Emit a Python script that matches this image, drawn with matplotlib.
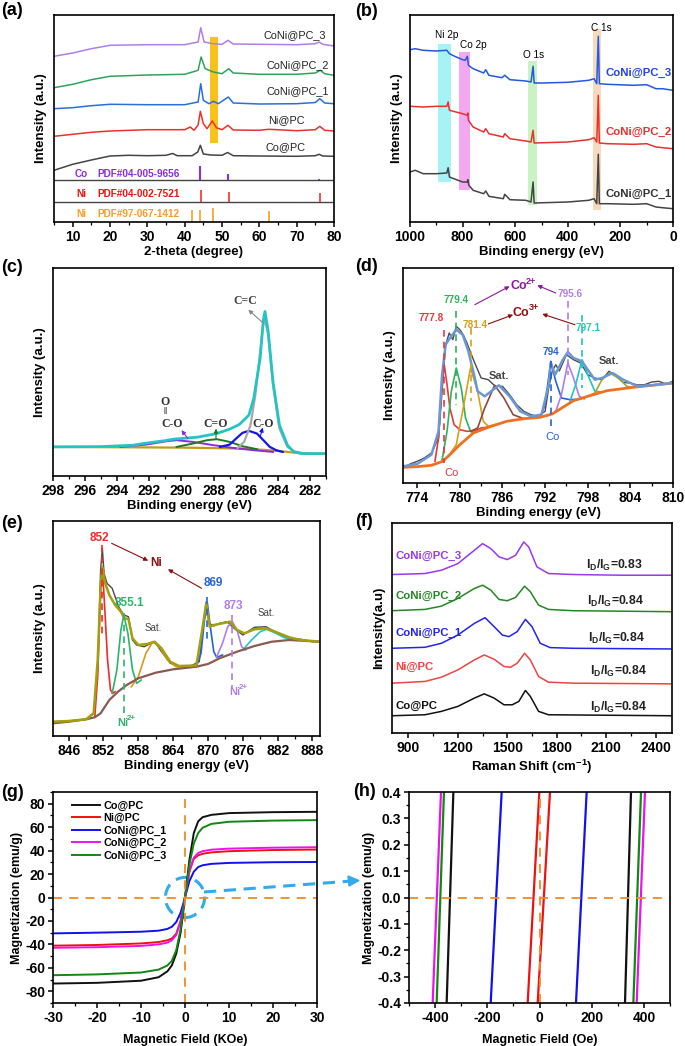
import numpy as np
import matplotlib.pyplot as plt
from matplotlib.patches import Ellipse
from matplotlib.lines import Line2D
from matplotlib.ticker import MultipleLocator

plt.rcParams['font.family'] = ['Liberation Sans', 'DejaVu Sans']
plt.rcParams['font.weight'] = 'bold'
plt.rcParams['axes.labelweight'] = 'bold'
plt.rcParams['mathtext.fontset'] = 'custom'
plt.rcParams['mathtext.rm'] = 'Liberation Sans:bold'
plt.rcParams['mathtext.bf'] = 'Liberation Sans:bold'
plt.rcParams['mathtext.default'] = 'bf'
plt.rcParams['axes.unicode_minus'] = False
plt.rcParams['axes.linewidth'] = 1.2

# ---------------- (a) XRD ----------------
xrd_co_x = [5, 10, 15, 20, 25, 30, 35, 36.8, 38, 42, 43.5, 44.2, 45, 47, 50, 51.5, 53, 60, 70, 75, 76, 77, 80]
xrd_co_y = [51.7, 57.7, 62, 66, 66.7, 66.3, 66.7, 68.5, 66.3, 66.3, 70, 76.7, 68, 67, 66.7, 69.5, 66.3, 66, 65.7, 66.3, 67.7, 66, 65.7]
xrd_ni_x = [5, 10, 15, 20, 30, 40, 41.5, 42.5, 43.6, 44.2, 45, 46, 47.4, 48.5, 50, 51.6, 53, 60, 62.5, 70, 75, 76.2, 77.5, 80]
xrd_ni_y = [85.7, 87.7, 89.7, 91, 92.3, 92.3, 95, 91.7, 97, 110.7, 98.3, 93.3, 101, 94.3, 92.3, 96.7, 92, 91.7, 92.7, 91.3, 92.3, 95.7, 91.7, 91]
xrd_c1_x = [5, 10, 15, 20, 30, 40, 43.6, 44.3, 45, 46.5, 47.7, 49, 51.7, 53, 60, 70, 75, 76.2, 77.5, 80]
xrd_c1_y = [113.3, 114.3, 116.3, 117.7, 117.3, 117.3, 120, 138.3, 121.7, 118.3, 120.7, 118.3, 125, 119, 118, 118.3, 119.5, 123.3, 119, 118.3]
xrd_c2_x = [5, 10, 15, 20, 30, 40, 43.6, 44.4, 45.5, 47.7, 50, 51.8, 53, 60, 70, 75, 76.3, 77.5, 80]
xrd_c2_y = [134.3, 137.7, 142.3, 145.7, 147, 147.7, 151.7, 165, 153.3, 150, 148.3, 153.3, 149, 147.7, 147.7, 149, 151.7, 148.3, 146.7]
xrd_c3_x = [5, 10, 15, 20, 30, 40, 43.6, 44.3, 45.2, 47.6, 50, 51.6, 53, 60, 70, 75, 76, 77, 80]
xrd_c3_y = [165.7, 169, 173.3, 176.7, 177.3, 177.3, 180, 194.3, 180, 178.3, 177.7, 181.7, 178, 177.7, 177.3, 178.3, 180, 177.7, 176]
xrd_names = ['Co@PC', 'Ni@PC', 'CoNi@PC_1', 'CoNi@PC_2', 'CoNi@PC_3']
xrd_label_pos = [(72.4, 75), (72.1, 101.7), (78.7, 131), (78.7, 156.7), (77.8, 186.7)]
pdf_co_x = [44.2, 51.6, 76.0]
pdf_co_top = [56, 47.7, 43.3]
pdf_ni1_x = [44.5, 51.8, 76.2]
pdf_ni1_top = [32.3, 30, 29]
pdf_ni2_x = [42.0, 44.0, 47.6, 62.6]
pdf_ni2_top = [11.7, 11.7, 14, 11]
pdf_names = [('Co', 'PDF#04-005-9656'), ('Ni', 'PDF#04-002-7521'), ('Ni', 'PDF#97-067-1412')]

# ---------------- (b) XPS survey ----------------
sv3_x = [1000, 980, 950, 900, 860, 850, 830, 800, 790, 782, 778, 760, 720, 712, 700, 650, 640, 620, 560, 540, 532, 528, 500, 400, 320, 300, 290, 284, 280, 250, 150, 100, 65, 40, 0]
sv3_y = [172.3, 173.3, 171.7, 171, 171.7, 168.3, 165.7, 162.3, 161.7, 165.7, 156.7, 153.3, 149, 152.3, 146.7, 144.3, 146.7, 142.3, 141, 140, 155.7, 139, 139, 139.7, 141.7, 143.3, 138.3, 185.7, 138.3, 137.7, 136.7, 137.3, 133.3, 133.3, 131.7]
sv2_x = [1000, 950, 900, 860, 855, 850, 800, 782, 780, 778, 760, 720, 712, 700, 645, 640, 620, 560, 540, 532, 528, 400, 320, 300, 290, 284, 280, 250, 150, 100, 65, 40, 0]
sv2_y = [115.7, 115, 115.7, 115.7, 120, 111.7, 108.3, 106.7, 109, 101.7, 95, 90, 93.3, 88.3, 85, 88.3, 83.3, 81, 80, 91.7, 79, 80, 82.3, 84.3, 80, 126.7, 79, 78.3, 77.7, 78.3, 75, 74.3, 73.3]
sv1_x = [1000, 980, 950, 900, 860, 855, 850, 800, 782, 780, 776, 760, 720, 712, 700, 645, 640, 620, 560, 540, 532, 528, 400, 320, 300, 290, 284, 280, 250, 150, 100, 65, 40, 0]
sv1_y = [50, 51.7, 48.3, 48.3, 49, 54.3, 45, 40, 40, 42.3, 36.7, 31.7, 28.3, 31, 25.7, 23.3, 27.7, 22.3, 21.7, 20, 40, 19, 20, 21.7, 23.3, 18.3, 67.7, 18.3, 18.3, 17.7, 18.3, 15, 14.3, 13.3]
band_x = [(895, 844), (813, 770), (551, 516), (306, 272)]
band_y = [(40, 178), (31.7, 170), (16.7, 160.7), (12.3, 193.3)]
band_col = ['#a5f3f5', '#f5a8f2', '#c9f3c2', '#f7d9bd']
band_txt = ['Ni 2p', 'Co 2p', 'O 1s', 'C 1s']
band_txt_pos = [(861, 186.7), (759, 176.7), (532, 167), (272, 194)]

# ---------------- (c) C 1s ----------------
c_env_x = [298, 295, 293, 292.4, 291, 290.5, 289, 287.8, 287, 286.4, 285.8, 285.5, 285.1, 284.9, 284.8, 284.6, 284.3, 283.9, 283.4, 283, 282.5, 281]
c_env_y = [29, 29.3, 30.7, 32.3, 35.3, 36.7, 38.7, 42.3, 46.7, 51.3, 60.7, 77.3, 117.3, 155.7, 164, 144, 94, 50.7, 30.7, 24, 22.3, 22.3]
c_bg_x = [298, 290, 286, 284, 283, 282, 281]
c_bg_y = [29, 28.3, 27.3, 25, 23.3, 22.3, 22.3]
c_cc_x = [286.5, 286.1, 285.7, 285.4, 285.1, 284.9, 284.8, 284.6, 284.3, 283.9, 283.4, 283, 282.5]
c_cc_y = [28, 34, 50.7, 80.7, 124, 152.3, 155.7, 140.7, 90.7, 47.3, 29, 24.7, 23]
c_co_x = [287.6, 287, 286.6, 286.2, 285.8, 285.3, 284.9, 284.5, 284.1, 283.7]
c_co_y = [29, 31.3, 37.3, 43, 45, 42.3, 35.7, 29, 25.7, 24]
c_ceo_x = [290.3, 289.3, 288.4, 287.8, 287, 286.2, 285.3]
c_ceo_y = [29, 32.3, 35.7, 36.7, 34, 29.7, 26.7]
c_oco_x = [293.8, 292.2, 290.9, 290.3, 289.3, 288, 286.8, 285.5, 284.3]
c_oco_y = [29, 31.3, 34.7, 35.7, 34, 30.7, 28, 25.7, 24]

# ---------------- (d) Co 2p ----------------
d_bg_x = [772, 774, 776, 777.6, 778.5, 780, 781.9, 784, 786.6, 789, 791.3, 793, 796, 798, 800.7, 804.4, 807, 810]
d_bg_y = [15.7, 16.3, 17.7, 21.7, 27.7, 38.3, 50, 55.7, 61.7, 64.3, 65.7, 69, 82.3, 86.7, 92.3, 95.7, 97.7, 100]
d_raw_x = [772, 773, 774, 775, 776, 777, 777.5, 778, 778.5, 779, 779.5, 780, 780.5, 781, 782, 783, 784, 785, 786, 787, 788, 789, 790, 791, 792, 792.5, 793, 793.5, 794, 795, 796, 797, 798, 799, 800, 801, 802, 803, 804, 805, 806, 807, 808, 809, 810]
d_raw_y = [15, 19, 21.7, 25, 30, 45, 91.7, 138.3, 150, 143.3, 156.7, 153.3, 148, 140, 121.7, 105, 103.3, 96.7, 96.7, 88.3, 78.3, 71.7, 68.3, 66.7, 71.7, 95, 111.7, 118.3, 112, 128.3, 123.3, 120, 108.3, 105, 103.3, 111.7, 106.7, 100.5, 100, 98, 98.3, 101, 101.7, 99, 101.7]
d_env_x = [772, 774, 776, 777, 777.5, 778, 778.6, 779.5, 780.4, 781.2, 782, 782.5, 783.5, 785.5, 787, 788.5, 790, 791.5, 792.5, 792.8, 793.4, 794.5, 795.2, 796, 797.2, 798, 799, 800, 801.5, 803, 805, 807, 810]
d_env_y = [16.7, 19, 28.3, 51.7, 108.3, 138.3, 145, 153.3, 148.3, 131.7, 108.3, 91.7, 86.7, 97.7, 86.7, 71.7, 66.7, 68.3, 98.3, 120, 108.3, 123.3, 131, 125, 121.7, 113.3, 103.3, 105, 110, 103.3, 96.7, 97.7, 100]
d_comp = {
    'red': ([776.5, 777, 777.4, 777.8, 778.2, 778.6, 779.2, 780, 781, 782, 783, 784], [21.7, 45, 91.7, 118.3, 98.3, 75, 58.3, 53.3, 51.7, 52, 55, 56]),
    'green': ([777.5, 778.2, 778.8, 779.5, 780.2, 780.8, 781.5, 782], [23.3, 51.7, 91.7, 115, 95, 65, 51.7, 50]),
    'gold': ([778.5, 779.5, 780.3, 781.5, 782.5, 783.3, 784, 785], [27.7, 38.3, 68.3, 115, 91.7, 61.7, 56.7, 58.5]),
    'brown': ([781.5, 782.5, 783.5, 784.9, 786.2, 787.5, 789], [51.7, 55, 75, 97.7, 85, 68.3, 64.3]),
    'blue': ([791.3, 792, 792.8, 793.5, 794.3, 795.5, 797], [65.7, 78.3, 121.7, 101.7, 85, 83.3, 84]),
    'lav': ([793.5, 794.3, 795.2, 796, 796.8, 797.5], [71.7, 88.3, 120, 105, 86.7, 84]),
    'cyan': ([795.5, 796.3, 797.2, 798, 799, 800], [81.7, 98.3, 123.3, 108.3, 91.7, 91]),
    'olive': ([797.5, 799, 800, 801.1, 802.3, 803.5, 804.5], [85, 90, 103.3, 110, 105, 96.7, 95.5]),
}
d_colors = {'red': '#e8383d', 'green': '#2fb35a', 'gold': '#d4a017', 'brown': '#8b4a3c',
            'blue': '#2563d6', 'lav': '#b07ee6', 'cyan': '#1fc6c6', 'olive': '#a3a81e'}
d_peaks = [('777.8', 777.8, 153.3, 20, 'red', 776.0, 165),
           ('779.4', 779.5, 171.7, 78.3, 'green', 779.5, 183.3),
           ('781.4', 781.5, 155, 81.7, 'gold', 782.1, 158.3),
           ('794', 792.8, 121.7, 55, 'blue', 792.8, 131),
           ('795.6', 795.2, 181.7, 108.3, 'lav', 795.5, 189),
           ('797.1', 797.2, 168.3, 95, 'cyan', 798.1, 155)]

# ---------------- (e) Ni 2p ----------------
e_bg_x = [843.3, 846, 849, 850.5, 851.5, 853, 854.5, 856, 858, 861, 864, 868, 870, 872, 875, 878, 881, 884, 889.3]
e_bg_y = [12.7, 14.3, 16.7, 18.7, 22.7, 36, 44.3, 51, 57.7, 63.3, 66.7, 69.3, 72, 77.7, 84.3, 90, 94.3, 96, 94.3]
e_raw_x = [843.3, 846, 849, 850.3, 851, 851.5, 851.8, 852.1, 852.6, 853.5, 854.6, 855.5, 856.3, 857, 857.7, 859, 860.8, 862, 863.5, 865, 867, 868.5, 869.3, 869.7, 870.2, 871, 872, 873.3, 874.5, 876, 878, 880, 882, 884, 886, 888, 889.3]
e_raw_y = [14.3, 15, 16.7, 22.7, 66, 166, 187.7, 162.7, 152.7, 147.7, 129.3, 121, 119.3, 96, 91, 89.3, 94.3, 84.3, 72.7, 70, 70, 74.3, 116, 134.3, 112.7, 110, 112.7, 114.3, 107.7, 101, 108.7, 109.3, 102.7, 97.7, 96.7, 94.3, 94.3]
e_env_x = [843.3, 846, 849, 850.3, 851, 851.5, 851.8, 852.2, 853, 854, 855, 855.6, 856.3, 857, 858, 859.5, 860.8, 862, 863.5, 865, 868, 869, 869.7, 870.3, 871, 872.5, 873.8, 875, 876.3, 878, 880, 882, 884, 886, 889.3]
e_env_y = [14.3, 15, 16.7, 22.7, 76, 149.3, 169.3, 154.3, 141, 131, 124.3, 117.7, 117, 97.7, 91, 92, 94.3, 87.7, 74.3, 70, 70.5, 106, 132.7, 109.3, 111, 112.7, 114.3, 106, 102.7, 106.7, 107.7, 103.3, 98.7, 96, 94.3]
e_comp = {
    'red': ([850.5, 851, 851.5, 851.8, 852.2, 852.7, 853.2, 853.6, 854], [19.3, 59.3, 146, 169.3, 129.3, 76, 46, 42.7, 44.3]),
    'green': ([853.5, 854.3, 855, 855.5, 856.2, 857, 857.7, 858.5], [42.7, 66, 106, 121, 102.7, 66, 52.7, 56]),
    'gold': ([856.8, 858, 859.3, 860.5, 861.8, 863, 864.5, 866], [49.3, 59.3, 82.7, 94.3, 87.7, 76, 69.3, 68.7]),
    'blue': ([868, 868.8, 869.4, 869.9, 870.4, 871, 871.5, 872.5], [69.3, 82.7, 116, 132.7, 109.3, 84.3, 78.7, 81]),
    'lav': ([871.5, 872.5, 873.4, 874.2, 875, 875.8, 876.5], [79.3, 92.7, 109.3, 114.3, 106, 89.3, 86]),
    'cyan': ([876, 877.5, 879, 880.1, 881.5, 883, 884.5], [86, 96, 104.3, 106.7, 103.3, 98.7, 96]),
}
e_colors = {'red': '#ee2b2b', 'green': '#2db36b', 'gold': '#d49a1c', 'blue': '#2563d6', 'lav': '#b07ee6', 'cyan': '#1fc6c6'}

# ---------------- (f) Raman ----------------
ram_names = ['Co@PC', 'Ni@PC', 'CoNi@PC_1', 'CoNi@PC_2', 'CoNi@PC_3']
ram_ratio = ['0.84', '0.84', '0.84', '0.84', '0.83']
ram_x = [
    [800, 1000, 1100, 1200, 1300, 1360, 1420, 1480, 1530, 1570, 1610, 1640, 1690, 1750, 2500],
    [800, 1000, 1100, 1200, 1300, 1360, 1420, 1480, 1520, 1560, 1605, 1640, 1690, 1750, 1900, 2500],
    [800, 1000, 1100, 1200, 1300, 1365, 1420, 1470, 1510, 1560, 1610, 1650, 1700, 1760, 1900, 2500],
    [800, 1000, 1100, 1200, 1300, 1350, 1400, 1450, 1500, 1550, 1605, 1640, 1690, 1750, 1900, 2500],
    [800, 1000, 1100, 1200, 1300, 1350, 1400, 1450, 1500, 1550, 1600, 1630, 1680, 1750, 1900, 2200, 2500],
]
ram_y = [
    [17.3, 18.3, 21.7, 26.7, 35, 39.3, 35, 28.3, 28.3, 31.7, 42.7, 36.7, 21.7, 18.3, 17.3],
    [50, 51.7, 56, 63.3, 73.3, 78.3, 74, 66.7, 66, 70, 80, 73.3, 56.7, 51, 50, 49.3],
    [85, 86, 90, 98.3, 110, 115.7, 106.7, 98.3, 96.7, 101.7, 114, 106.7, 90, 85.7, 85, 84.3],
    [122.7, 124, 127.3, 135, 145, 148.3, 143.3, 134, 132.7, 136, 147.3, 141.7, 128.3, 124, 122.7, 121.7],
    [159, 160, 163.3, 170, 183.3, 190, 185, 176.7, 174, 178.3, 191.7, 186.7, 166.7, 160, 159, 158.3, 158.3],
]
ram_colors = ['#111111', '#ee4444', '#2323ee', '#238823', '#9b37ee']
ram_label_y = [27.3, 66.7, 100.7, 137.3, 177.3]
ram_ratio_pos = [(2000, 26), (2000, 61.7), (1990, 95), (1985, 132.3), (1980, 168.3)]

# ---------------- (g) VSM ----------------
vsm_names = ['Co@PC', 'Ni@PC', 'CoNi@PC_1', 'CoNi@PC_2', 'CoNi@PC_3']
vsm_colors = ['#111111', '#ee1111', '#1111ee', '#ee11ee', '#118811']
vsm_h = [-30, -20, -10, -6, -4, -3, -2, -1, 0, 1, 2, 3, 4, 6, 10, 20, 30]
vsm_m = [
    [-73.4, -72.8, -71, -68, -63, -58, -48, -30, 0, 32, 55, 65, 68.5, 70.5, 72, 72.8, 73.1],
    [-41.1, -40.5, -39.2, -38, -36.5, -35, -31, -20, 0, 22, 33, 36, 37.3, 38.5, 39.5, 40.5, 40.9],
    [-30.6, -30, -29.2, -28.3, -26.8, -25, -21, -13, 0, 14, 22, 26, 27.5, 28.7, 29.5, 30.1, 30.3],
    [-42.9, -42.4, -41.3, -40, -38.5, -36.5, -32, -21, 0, 23, 34, 38, 39.5, 40.8, 41.7, 42.5, 42.9],
    [-66.3, -65.6, -64, -61.5, -58, -54, -45, -27, 0, 28, 46, 55, 59.5, 62.8, 64.6, 65.6, 66],
]

# ---------------- (h) zoom of loops ----------------
loop_m = [-0.4, 0.4]
loop_left = [(-355.7, -330), (-45.3, -0.6), (-187, -145), (-409.3, -377.4), (-394, -366)]
loop_right = [(327.6, 350.6), (-7, 40.2), (139.8, 180.7), (372.3, 404.2), (359.5, 388.9)]

W, H = 685, 1046
fig = plt.figure(figsize=(W / 100, H / 100), dpi=100)


def box(l, t, r, b):
    return fig.add_axes([l / W, 1 - b / H, (r - l) / W, (b - t) / H])


def style(ax, xlim, ylim, xmaj, xmin, ylab, xlab):
    ax.set_xlim(*xlim)
    ax.set_ylim(*ylim)
    ax.xaxis.set_major_locator(MultipleLocator(xmaj))
    ax.xaxis.set_minor_locator(MultipleLocator(xmin))
    ax.tick_params(axis='x', direction='out', length=3.5, width=1.1, labelsize=10, pad=2)
    ax.tick_params(axis='x', which='minor', direction='out', length=2, width=0.9)
    ax.set_yticks([])
    ax.set_ylabel(ylab, fontsize=9.5, labelpad=5)
    ax.set_xlabel(xlab, fontsize=9.5, labelpad=2)
    for lab in ax.get_xticklabels():
        lab.set_fontweight('bold')


def panel(txt, x, y):
    fig.text(x / W, 1 - y / H, txt, fontsize=13, fontweight='bold', va='top', ha='left')


def arrow(ax, tail, head, color, lw=0.8, ms=6):
    ax.annotate('', xy=head, xytext=tail,
                arrowprops=dict(arrowstyle='-|>', color=color, lw=lw, mutation_scale=ms, shrinkA=0, shrinkB=0))


def ion(ax, x, y, base, charge, color, size):
    # element ends at x, charge raised right after it
    ax.text(x, y, base, ha='right', va='center', fontsize=size, color=color)
    ax.annotate(charge, (x, y), xytext=(-0.6, size * 0.42), textcoords='offset points',
                ha='left', va='center', fontsize=size * 0.72, color=color)


# (a)
ax = box(54, 15, 334, 222)
ax.fill_between([46.7, 49.0], 79.3, 185.3, color='#f9c21a', lw=0)
xrd_sets = [(xrd_co_x, xrd_co_y, '#444444'), (xrd_ni_x, xrd_ni_y, '#e8312f'),
            (xrd_c1_x, xrd_c1_y, '#2a6fd8'), (xrd_c2_x, xrd_c2_y, '#2fa35a'),
            (xrd_c3_x, xrd_c3_y, '#b07ee6')]
for (xs, ys, c), name, (lx, ly) in zip(xrd_sets, xrd_names, xrd_label_pos):
    ax.plot(xs, ys, color=c, lw=1.1)
    ax.text(lx, ly, name, ha='right', va='center', fontsize=7.8, fontweight='normal', color='#222222')
ax.axhline(41.7, color='#444444', lw=1)
ax.axhline(20, color='#444444', lw=1)
ax.vlines(pdf_co_x, 41.7, pdf_co_top, color='#8b2be2', lw=1.5)
ax.vlines(pdf_ni1_x, 20, pdf_ni1_top, color='#ee3333', lw=1.2)
ax.vlines(pdf_ni2_x, 0, pdf_ni2_top, color='#f7a12a', lw=1.2)
for (el, code), yy, c in zip(pdf_names, [47.7, 28.3, 8.3], ['#8b2be2', '#ee1111', '#ff9922']):
    ax.text(12.4, yy, el, ha='center', va='center', fontsize=7.2, color=c)
    ax.text(16.5, yy, code, ha='left', va='center', fontsize=7.2, color=c)
style(ax, (5, 80), (0, 207), 10, 5, 'Intensity (a.u.)', '2-theta (degree)')
panel('(a)', 1, 2)

# (b)
ax = box(410, 15, 673, 222)
for (x0, x1), (y0, y1), c, t, (tx, ty) in zip(band_x, band_y, band_col, band_txt, band_txt_pos):
    ax.fill_between([x0, x1], y0, y1, color=c, lw=0)
    ax.text(tx, ty, t, ha='center', va='center', fontsize=7.2, fontweight='normal')
ax.plot(sv1_x, sv1_y, color='#444444', lw=1.1)
ax.plot(sv2_x, sv2_y, color='#e8312f', lw=1.1)
ax.plot(sv3_x, sv3_y, color='#2259e0', lw=1.1)
ax.text(6, 149, 'CoNi@PC_3', ha='right', va='center', fontsize=8.2, color='#2245e0')
ax.text(6, 90, 'CoNi@PC_2', ha='right', va='center', fontsize=8.2, color='#e8312f')
ax.text(6, 28.3, 'CoNi@PC_1', ha='right', va='center', fontsize=8.2, color='#333333')
style(ax, (1000, 0), (0, 207), 200, 100, 'Intensity (a.u.)', 'Binding energy (eV)')
panel('(b)', 355, 3)

# (c)
ax = box(53, 268, 326, 476)
ax.plot(c_bg_x, c_bg_y, color='#c89a12', lw=1.6)
ax.plot(c_oco_x, c_oco_y, color='#8a2be2', lw=1.4)
ax.plot(c_ceo_x, c_ceo_y, color='#1f7a1f', lw=1.4)
ax.plot(c_co_x, c_co_y, color='#1515ee', lw=1.6)
ax.plot(c_cc_x, c_cc_y, color='#a8a8a8', lw=1.6)
ax.plot(c_env_x, c_env_y, color='#25c4c4', lw=2.0)
serif = ['Liberation Serif', 'DejaVu Serif']
ax.text(286.05, 174, 'C=C', family=serif, fontsize=8.5, ha='center', va='center', color='#444444')
ax.text(287.85, 52.3, 'C=O', family=serif, fontsize=8.5, ha='center', va='center', color='#333333')
ax.text(284.94, 52.3, 'C-O', family=serif, fontsize=8.5, ha='center', va='center', color='#333333')
ax.text(290.6, 52.3, 'C-O', family=serif, fontsize=8.5, ha='center', va='center', color='#333333')
ax.text(291.0, 64, '\u2016', family=serif, fontsize=7, ha='center', va='center', color='#333333')
ax.text(291.0, 74, 'O', family=serif, fontsize=8.5, ha='center', va='center', color='#333333')
arrow(ax, (284.9, 152.3), (285.84, 165.7), '#888888')
arrow(ax, (289.6, 37.3), (290.0, 45.7), '#8a2be2')
arrow(ax, (287.85, 36.3), (287.85, 47.3), '#1f7a1f')
arrow(ax, (285.1, 39), (284.94, 48.3), '#1515ee')
style(ax, (298, 281), (0, 207.3), 2, 1, 'Intensity (a.u.)', 'Binding energy (eV)')
panel('(c)', 1, 259)

# (d)
ax = box(403, 268, 673, 483)
ax.plot(d_raw_x, d_raw_y, color='#4a4a4a', lw=1.0)
for k, (xs, ys) in d_comp.items():
    ax.plot(xs, ys, color=d_colors[k], lw=1.2)
ax.plot(d_bg_x, d_bg_y, color='#f07020', lw=2.0)
ax.plot(d_env_x, d_env_y, color='#6a98d6', lw=1.8)
for t, x, y0, y1, k, tx, ty in d_peaks:
    ax.plot([x, x], [y0, y1], ls=(0, (4, 3)), color=d_colors[k], lw=1.2)
    ax.text(tx, ty, t, ha='center', va='center', fontsize=7.2, color=d_colors[k])
ax.text(785.5, 106.7, 'Sat.', ha='center', va='center', fontsize=8, color='#444444')
ax.text(801, 121.7, 'Sat.', ha='center', va='center', fontsize=8, color='#444444')
ax.text(793.1, 45.7, 'Co', ha='center', va='center', fontsize=8, fontweight='normal', color='#2563d6')
ax.text(778.8, 10, 'Co', ha='center', va='center', fontsize=8, fontweight='normal', color='#e8383d')
ion(ax, 789.4, 196.7, 'Co', '2+', '#8a1a9a', 9)
ion(ax, 789.8, 170, 'Co', '3+', '#8b1010', 9)
arrow(ax, (782.1, 178.3), (787.0, 196.7), '#8a1a9a')
arrow(ax, (793.5, 190), (790.9, 197.7), '#8a1a9a')
arrow(ax, (784.0, 159), (787.5, 168.3), '#8b1010')
arrow(ax, (796.2, 158.3), (791.6, 169), '#8b1010')
style(ax, (772, 810), (0, 215), 6, 3, 'Intensity (a.u.)', 'Binding energy (eV)')
ax.set_xticks([774, 780, 786, 792, 798, 804, 810])
panel('(d)', 355, 258)

# (e)
ax = box(53, 521, 320, 736)
ax.plot(e_raw_x, e_raw_y, color='#4a4a4a', lw=1.0)
for k, (xs, ys) in e_comp.items():
    ax.plot(xs, ys, color=e_colors[k], lw=1.2)
ax.plot(e_bg_x, e_bg_y, color='#8b5a50', lw=1.6)
ax.plot(e_env_x, e_env_y, color='#a3a010', lw=1.8)
ax.plot([851.7, 851.7], [191, 99.3], ls=(0, (4, 3)), color=e_colors['red'], lw=1.2)
ax.plot([855.5, 855.5], [122.7, 19.3], ls=(0, (4, 3)), color=e_colors['green'], lw=1.2)
ax.plot([869.9, 869.9], [139.3, 96], ls=(0, (4, 3)), color=e_colors['blue'], lw=1.2)
ax.plot([874.2, 874.2], [121, 49.3], ls=(0, (4, 3)), color=e_colors['lav'], lw=1.2)
ax.text(851.3, 197.7, '852', ha='center', va='center', fontsize=8.5, color=e_colors['red'])
ax.text(861.1, 172.7, 'Ni', ha='center', va='center', fontsize=8.5, color='#8b1010')
ax.text(870.9, 152.7, '869', ha='center', va='center', fontsize=8.5, color=e_colors['blue'])
ax.text(856.5, 133.3, '855.1', ha='center', va='center', fontsize=8.5, color=e_colors['green'])
ax.text(874.3, 130, '873', ha='center', va='center', fontsize=8.5, color=e_colors['lav'])
ax.text(860.5, 107.7, 'Sat.', ha='center', va='center', fontsize=7, fontweight='normal', color='#444444')
ax.text(880.1, 122.7, 'Sat.', ha='center', va='center', fontsize=7, fontweight='normal', color='#444444')
ion(ax, 856.2, 12.7, 'Ni', '2+', e_colors['green'], 8)
ion(ax, 875.5, 44.3, 'Ni', '2+', e_colors['lav'], 8)
arrow(ax, (853.4, 192.7), (859.7, 175.3), '#8b1010')
arrow(ax, (868.9, 147.7), (863.1, 166.7), '#8b1010')
style(ax, (843.3, 889.3), (0, 215), 6, 3, 'Intensity (a.u.)', 'Binding energy (eV)')
ax.set_xticks(range(846, 889, 6))
panel('(e)', 1, 515)

# (f)
ax = box(392, 523, 672, 733)
for xs, ys, c, name, ly, ratio, (rx, ry) in zip(ram_x, ram_y, ram_colors, ram_names,
                                                 ram_label_y, ram_ratio, ram_ratio_pos):
    ax.plot(xs, ys, color=c, lw=1.1)
    ax.text(820, ly, name, ha='left', va='center', fontsize=8.2, color=c)
    ax.text(rx, ry, 'I$_D$/I$_G$=' + ratio, ha='left', va='center', fontsize=8.8, color='#222222')
style(ax, (800, 2500), (0, 210.7), 300, 150, 'Intensity(a.u)', 'Raman Shift (cm$^{-1}$)')
panel('(f)', 355, 513)

# (g)
ax = box(53, 792, 317, 1003)
for m, c, name in zip(vsm_m, vsm_colors, vsm_names):
    ax.plot(vsm_h, m, color=c, lw=1.4, label=name)
ax.axhline(0, color='#f08a24', lw=1.3, ls=(0, (5, 4)))
ax.axvline(0, color='#f08a24', lw=1.3, ls=(0, (5, 4)))
ax.add_patch(Ellipse((0, 0), 8.9, 34.3, fill=False, ec='#33aaee', lw=2.2, ls=(0, (4, 2.5))))
ax.set_xlim(-30, 30)
ax.set_ylim(-90, 90)
ax.xaxis.set_major_locator(MultipleLocator(10))
ax.xaxis.set_minor_locator(MultipleLocator(5))
ax.yaxis.set_major_locator(MultipleLocator(20))
ax.yaxis.set_minor_locator(MultipleLocator(10))
ax.tick_params(direction='out', length=3.5, width=1.1, labelsize=10, pad=2)
ax.tick_params(which='minor', direction='out', length=2, width=0.9)
ax.set_xlabel('Magnetic Field (KOe)', fontsize=9, labelpad=7)
ax.set_ylabel('Magnetization (emu/g)', fontsize=9, labelpad=2)
ax.legend(loc='upper left', frameon=False, fontsize=7.8, handlelength=2.6, labelspacing=0.22,
          handletextpad=0.3, borderaxespad=0.4, bbox_to_anchor=(0.04, 1.0))
panel('(g)', 1, 784)

# (h)
ax = box(409, 792, 670, 1003)
for (l0, l1), (r0, r1), c in zip(loop_left, loop_right, vsm_colors):
    ax.plot([l0, l1], loop_m, color=c, lw=1.6)
    ax.plot([r0, r1], loop_m, color=c, lw=1.6)
ax.axhline(0, color='#f08a24', lw=1.3, ls=(0, (5, 4)))
ax.axvline(0, color='#f08a24', lw=1.3, ls=(0, (5, 4)))
ax.set_xlim(-500, 500)
ax.set_ylim(-0.4, 0.4)
ax.xaxis.set_major_locator(MultipleLocator(200))
ax.xaxis.set_minor_locator(MultipleLocator(100))
ax.yaxis.set_major_locator(MultipleLocator(0.1))
ax.yaxis.set_minor_locator(MultipleLocator(0.05))
ax.tick_params(direction='out', length=3.5, width=1.1, labelsize=10, pad=2)
ax.tick_params(which='minor', direction='out', length=2, width=0.9)
ax.set_xlabel('Magnetic Field (Oe)', fontsize=9, labelpad=7)
ax.set_ylabel('Magnetization (emu/g)', fontsize=9, labelpad=2)
panel('(h)', 353, 783)

# link between (g) and (h)
fig.add_artist(Line2D([204 / W, 352 / W], [1 - 892 / H, 1 - 881 / H], color='#33aaee', lw=2.2,
                      ls=(0, (4, 2.5)), transform=fig.transFigure))
fig.add_artist(plt.Polygon([[348 / W, 1 - 876 / H], [359 / W, 1 - 880.5 / H], [349 / W, 1 - 886 / H]],
                           closed=True, color='#33aaee', transform=fig.transFigure))

fig.savefig('out.png', dpi=100)
